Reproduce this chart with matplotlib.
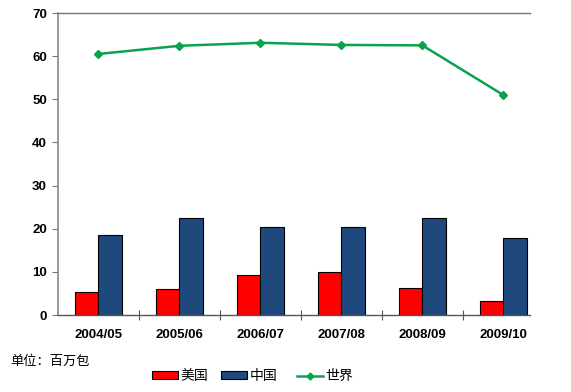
import matplotlib
matplotlib.use("Agg")
import matplotlib.pyplot as plt
import numpy as np
from matplotlib.lines import Line2D
from matplotlib.patches import Patch

plt.rcParams['font.family'] = ['Liberation Sans', 'Noto Sans CJK SC', 'DejaVu Sans']

categories = ["2004/05", "2005/06", "2006/07", "2007/08", "2008/09", "2009/10"]
usa = [5.4, 6.0, 9.3, 10.0, 6.2, 3.2]
china = [18.5, 22.4, 20.5, 20.5, 22.4, 17.8]
world = [60.5, 62.4, 63.1, 62.6, 62.5, 51.0]
series_names = ["美国", "中国", "世界"]
unit_label = "单位：百万包"

red = "#FF0000"
blue = "#1F497D"
green = "#0AA24E"

fig = plt.figure(figsize=(5.71, 3.92), dpi=100)
ax = fig.add_axes([58/571, 1-315/392, (530-58)/571, (315-13)/392])

x = np.arange(len(categories))
w = 0.29
ax.bar(x - w/2, usa, width=w, color=red, edgecolor="black", linewidth=0.8, zorder=2)
ax.bar(x + w/2, china, width=w, color=blue, edgecolor="black", linewidth=0.8, zorder=2)
ax.plot(x, world, color=green, linewidth=1.8, marker="D", markersize=4.5, zorder=3)

ax.set_xlim(-0.5, 5.33)
ax.set_ylim(0, 70)
ax.set_yticks(np.arange(0, 71, 10))
ax.set_yticklabels([str(v) for v in range(0, 71, 10)], fontsize=9.5, fontweight="bold")
ax.set_xticks(np.arange(0.5, len(categories) - 0.5, 1))
ax.set_xticks(x, minor=True)
ax.set_xticklabels([])
ax.set_xticklabels(categories, minor=True, fontsize=9.5, fontweight="bold")
ax.tick_params(axis="x", which="major", direction="inout", length=7, color="#555555")
ax.tick_params(axis="x", which="minor", length=0, pad=10)
ax.tick_params(axis="y", direction="out", length=4, color="#777777", pad=4)

ax.spines["right"].set_visible(False)
ax.spines["left"].set_color("#888888")
ax.spines["left"].set_linewidth(1.2)
ax.spines["top"].set_color("#777777")
ax.spines["top"].set_linewidth(1.0)
ax.spines["bottom"].set_color("#555555")
ax.spines["bottom"].set_linewidth(1.0)

cjk = ['Noto Sans CJK SC', 'DejaVu Sans']
fig.text(10/571, 1-361/392, unit_label, fontsize=9.5, va="center", ha="left", family=cjk)

handles = [Patch(facecolor=red, edgecolor="black", linewidth=0.8),
           Patch(facecolor=blue, edgecolor="black", linewidth=0.8),
           Line2D([], [], color=green, linewidth=1.8, marker="D", markersize=3.5)]
lefts = [152, 221, 297]
for h, name, lx in zip(handles, series_names, lefts):
    leg = fig.legend([h], [name], loc="center left", bbox_to_anchor=(lx/571, 1-376/392),
                     frameon=False, handlelength=1.9, handleheight=0.45,
                     handletextpad=0.15, borderpad=0, borderaxespad=0,
                     prop={'family': cjk, 'size': 10})

fig.savefig("out.png", dpi=100)
